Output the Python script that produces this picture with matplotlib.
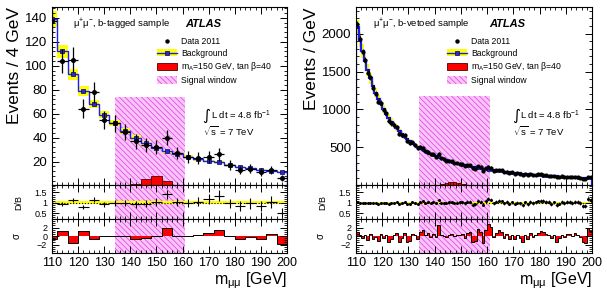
#mu+mu- invariant mass, b-tagged and b-vetoed samples

#importing the libraries
import numpy as np
import matplotlib
matplotlib.use('Agg')
import matplotlib.pyplot as plt
from matplotlib.patches import Patch
from matplotlib.lines import Line2D
from matplotlib.ticker import MultipleLocator

plt.rcParams['font.family'] = ['Liberation Sans', 'DejaVu Sans']
plt.rcParams['mathtext.fontset'] = 'custom'
plt.rcParams['mathtext.rm'] = 'Liberation Sans'
plt.rcParams['mathtext.it'] = 'Liberation Sans:italic'
plt.rcParams['mathtext.bf'] = 'Liberation Sans:bold'
plt.rcParams['hatch.linewidth'] = 0.5

#b-tagged sample, 4 GeV bins (lower edges 108 ... 196)
edges_l = np.arange(108, 204, 4)
bkg_l = [139, 112, 93, 79, 68, 59, 52, 45.5, 40, 35.5, 31, 28.5, 26, 24, 22, 20.5,
         19.3, 17.5, 15.5, 14.3, 13, 12.3, 11.5]
data_l = [137, 104, 105, 64, 78, 55, 52, 45, 37, 34, 32, 40, 27, 24, 23, 24, 26,
          17, 13, 14, 11, 13, 6]
sig_l = [0, 0, 0, 0, 0, 0, 0, 0.3, 1.5, 5.5, 8, 4, 0.5, 0, 0, 0, 0, 0, 0, 0, 0, 0, 0]
pull_l = [-0.6, 1.2, -1.7, 1.1, -0.6, 0, 0, 0, -0.8, -0.5, 0, 1.8, 0, 0, 0.2, 0.6,
          1.4, 0, -0.8, -0.2, -0.8, 0.5, -1.8]
band_l = 0.08

#b-vetoed sample, 1 GeV bins (lower edges 110 ... 199)
edges_r = np.arange(110, 201, 1)
bkg_r = [2080, 1920, 1770, 1640, 1520, 1410, 1310, 1220, 1140, 1070,
         1005, 945, 890, 840, 795, 752, 713, 677, 643, 612,
         583, 556, 531, 508, 486, 466, 447, 429, 412, 397,
         382, 368, 355, 343, 331, 320, 310, 300, 291, 282,
         274, 266, 258, 251, 244, 237, 231, 225, 219, 213,
         208, 203, 198, 193, 188, 184, 180, 176, 172, 168,
         164, 160, 157, 154, 151, 148, 145, 142, 139, 136,
         133, 130, 128, 125, 123, 120, 118, 116, 114, 112,
         110, 108, 106, 104, 102, 100, 98, 97, 95, 93]
pull_r = [0.9, 0.3, -0.4, 0.2, -1.0, 0.4, -0.6, -0.3, -1.2, 0.5,
          -0.5, 0.3, -1.3, -0.8, 0.2, 0.6, -1.5, -0.4, 0.8, -1.3,
          -1.2, 0.4, 0.2, -0.8, 1.0, 1.4, 0.3, 0.6, -0.2, 0.5,
          -0.3, 2.6, 0.2, 0.1, -0.2, 0.3, 0.4, -0.1, 0.2, 0.3,
          0.4, -0.5, 0.8, 1.0, -1.3, -1.2, 1.6, 0.9, -1.6, 1.4,
          2.8, 2.2, -0.3, 0.6, 1.4, 0.9, -0.4, 0.5, -0.7, 0.3,
          -0.6, 0.2, -0.4, -1.5, 0.3, -0.8, 0.6, -0.2, 0.3, 0.8,
          1.2, 0.9, 0.5, 0.3, -0.5, 0.2, -1.3, -0.4, 0.3, -0.2,
          0.4, 0.5, 0.1, 0.6, 0.2, -0.3, -1.4, -1.6, 2.0, 1.2]
sig_r = [0] * 30 + [3, 8, 15, 24, 32, 38, 40, 38, 33, 26, 18, 12, 7, 4] + [0] * 46
band_r = 0.06

#signal window
win = [134, 161]
win_top_l = 74
win_top_r = 1180

W, H = 607, 291
fig = plt.figure(figsize=(W / 100, H / 100), dpi=100)

pink_face = '#f9c4f9'
pink_hatch = '#e03ce0'
hatch = '\\\\\\\\\\\\'


def panel_axes(x0, x1):
    def ax_at(top, bot):
        return fig.add_axes([x0 / W, 1 - bot / H, (x1 - x0) / W, (bot - top) / H])
    return ax_at(7, 185), ax_at(185, 219), ax_at(219, 253)


def root_ticks(ax):
    ax.tick_params(which='both', direction='in', top=True, right=True)
    ax.tick_params(which='major', length=5, width=0.7)
    ax.tick_params(which='minor', length=2.5, width=0.6)
    for s in ax.spines.values():
        s.set_linewidth(0.8)


def window(ax, top=None):
    if top is None:
        ax.axvspan(win[0], win[1], facecolor=pink_face, edgecolor=pink_hatch,
                   hatch=hatch, lw=0, zorder=0)
    else:
        ax.fill_between(win, 0, top, facecolor=pink_face, edgecolor=pink_hatch,
                        hatch=hatch, lw=0, zorder=0)


def draw_panel(x0, x1, edges, bkg, data, sig, pull, band, win_top, ylab,
               ylim, ymaj, ymin, fine, sample, leg_x, lumi_x):
    bkg = np.array(bkg, float)
    data = np.array(data, float)
    sig = np.array(sig, float)
    pull = np.array(pull, float)
    width = edges[1] - edges[0]
    cen = edges[:-1] + width / 2
    err_b = 0.05 * bkg
    ax, axr, axs = panel_axes(x0, x1)

    #main panel
    window(ax, win_top)
    ax.bar(cen, 2 * err_b, bottom=bkg - err_b, width=width, color='#ffff00', lw=0, zorder=1)
    ax.stairs(bkg, edges, color='#1a1aff', lw=1.0 if not fine else 1.6, zorder=2)
    ax.plot(cen, bkg, 's', ms=2.2 if not fine else 1.6, mfc='#2a2ad0', mec='#000070',
            mew=0.5, zorder=3)
    nz = sig > 0
    ax.bar(cen[nz], sig[nz], width=width, color='#ff0000', edgecolor='#500000',
           lw=0.6, zorder=2)
    ax.errorbar(cen, data, yerr=np.sqrt(data), xerr=width / 2, fmt='o',
                ms=2.6 if not fine else 2.0, color='black', elinewidth=0.9 if not fine else 0.6,
                capsize=0, zorder=4)
    ax.set_xlim(110, 200)
    ax.set_ylim(*ylim)
    ax.yaxis.set_major_locator(MultipleLocator(ymaj))
    ax.yaxis.set_minor_locator(MultipleLocator(ymin))
    ax.xaxis.set_major_locator(MultipleLocator(10))
    ax.xaxis.set_minor_locator(MultipleLocator(2))
    ax.tick_params(labelbottom=False, labelsize=9.5)
    root_ticks(ax)
    ax.set_ylabel(ylab, loc='top', fontsize=12.5, labelpad=2)

    ax.text(0.07 if fine else 0.089, 0.904, '$\\mathrm{\\mu^{+}\\mu^{-}}$, ' + sample,
            transform=ax.transAxes, fontsize=6.8, va='center')
    ax.text(0.566, 0.904, 'ATLAS', transform=ax.transAxes, fontsize=8,
            fontweight='bold', fontstyle='italic', va='center')

    handles = [Line2D([], [], ls='none', marker='o', ms=2.2, color='black'),
               (Patch(facecolor='#ffff00', lw=0),
                Line2D([], [], color='#1a1aff', lw=1, marker='s', ms=2.2,
                       mfc='#2a2ad0', mec='#000070', mew=0.5)),
               Patch(facecolor='#ff0000', edgecolor='#500000', lw=0.6),
               Patch(facecolor=pink_face, edgecolor=pink_hatch, hatch=hatch, lw=0)]
    labels = ['Data 2011', 'Background',
              'm$_{\\mathrm{A}}$=150 GeV, tan β=40', 'Signal window']
    ax.legend(handles, labels, loc='upper left', bbox_to_anchor=(leg_x, 0.83),
              fontsize=6.2, frameon=False, borderpad=0, borderaxespad=0,
              handlelength=2.3, handleheight=0.9, handletextpad=0.5, labelspacing=0.3)

    ax.text(lumi_x, 0.39, '∫', transform=ax.transAxes, fontsize=11, va='center',
            family='DejaVu Sans')
    ax.text(lumi_x + 0.035, 0.39, 'L dt = 4.8 fb$^{\\mathrm{-1}}$', transform=ax.transAxes,
            fontsize=6.8, va='center')
    ax.text(lumi_x + 0.003, 0.3, '$\\sqrt{\\mathrm{s}}$ = 7 TeV', transform=ax.transAxes,
            fontsize=6.8, va='center')

    #data / background panel
    window(axr)
    axr.fill_between([110, 200], 1 - band, 1 + band, color='#ffff00', lw=0, zorder=1)
    axr.axhline(1, ls=':', color='black', lw=0.8, zorder=2)
    ratio = data / bkg
    if fine:
        axr.errorbar(cen, ratio, yerr=np.sqrt(data) / bkg, xerr=width / 2, fmt='o', ms=1.2,
                     color='black', elinewidth=0.5, capsize=0, zorder=3)
    else:
        axr.errorbar(cen, ratio, yerr=np.sqrt(data) / bkg, xerr=width / 2, fmt='none',
                     color='black', elinewidth=0.8, capsize=0, zorder=3)
    axr.set_xlim(110, 200)
    axr.set_ylim(0.22, 1.86)
    axr.set_yticks([0.5, 1, 1.5])
    axr.set_yticklabels(['0.5', '1', '1.5'])
    axr.yaxis.set_minor_locator(MultipleLocator(0.1))
    axr.xaxis.set_major_locator(MultipleLocator(10))
    axr.xaxis.set_minor_locator(MultipleLocator(2))
    axr.tick_params(labelbottom=False, labelsize=6.5)
    root_ticks(axr)
    axr.set_ylabel('D/B', fontsize=6.5, labelpad=8)

    #pull panel
    window(axs)
    axs.stairs(pull, edges, fill=True, color='#ff0000', baseline=0, zorder=1)
    axs.stairs(pull, edges, color='black', lw=0.7, baseline=0, zorder=2)
    axs.set_xlim(110, 200)
    axs.set_ylim(-4, 4)
    axs.set_yticks([-2, 0, 2])
    axs.yaxis.set_minor_locator(MultipleLocator(0.5))
    axs.xaxis.set_major_locator(MultipleLocator(10))
    axs.xaxis.set_minor_locator(MultipleLocator(2))
    axs.tick_params(labelsize=6.5)
    axs.tick_params(axis='x', labelsize=9, pad=3)
    root_ticks(axs)
    axs.set_ylabel('σ', fontsize=7, labelpad=11)
    axs.set_xlabel('m$_{\\mathrm{μμ}}$ [GeV]', loc='right', fontsize=11.5, labelpad=1)
    return ax, axr, axs


#b-tagged
draw_panel(52, 287, edges_l, bkg_l, data_l, sig_l, pull_l, band_l, win_top_l,
           'Events / 4 GeV', (0.5, 149), 20, 4, False, 'b-tagged sample', 0.447, 0.64)

#b-vetoed
data_r = np.array(bkg_r) + np.array(pull_r) * np.sqrt(bkg_r)
draw_panel(356, 592, edges_r, bkg_r, data_r, sig_r, pull_r, band_r, win_top_r,
           'Events / GeV', (5, 2350), 500, 100, True, 'b-vetoed sample', 0.386, 0.661)

fig.savefig('out.png', dpi=100)
